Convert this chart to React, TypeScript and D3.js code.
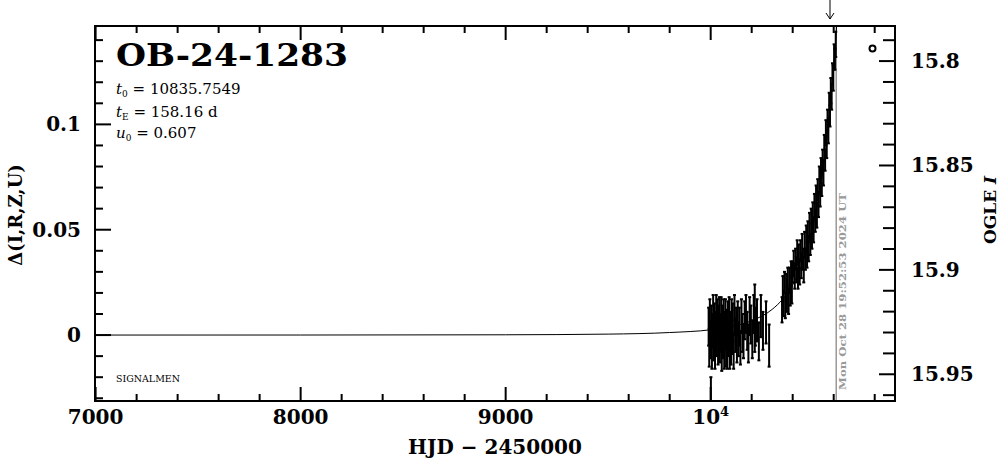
import React from "react";
import * as d3 from "d3";

// ---------- data ----------
const EVENT_NAME = "OB-24-1283";
const T0 = "10835.7549";
const TE = "158.16";
const U0 = "0.607";

const X_DOMAIN = [6997, 10899];
const Y_DOMAIN = [-0.0313, 0.1467];
const MAG_DOMAIN = [15.7832, 15.9628];

const xMajorTicks = [7000, 8000, 9000, 10000];
const xTickLabels = ["7000", "8000", "9000", "10^4"];
const yMajorTicks = [0, 0.05, 0.1];
const yTickLabels = ["0", "0.05", "0.1"];
const magMajorTicks = [15.8, 15.85, 15.9, 15.95];
const magTickLabels = ["15.8", "15.85", "15.9", "15.95"];

const NOW_HJD = 10612.33;
const NOW_LABEL = "Mon Oct 28 19:52:53 2024 UT";
const ARROW_HJD = 10582;

// model curve (HJD, delta)
const modelHjd = [6997, 8000, 9000, 9500, 9800, 10000, 10100, 10200, 10300, 10350, 10400, 10450, 10500, 10550, 10580, 10600, 10620, 10640];
const modelDelta = [0.0, 0.00002, 0.00013, 0.00045, 0.0012, 0.0025, 0.004, 0.0068, 0.0122, 0.0169, 0.0239, 0.0347, 0.0521, 0.0802, 0.1056, 0.1274, 0.155, 0.19];

// OGLE photometry: HJD, delta, error
const ogleHjd = [
  9990, 9993, 9996, 10000, 10003, 10006, 10009, 10012, 10015, 10018, 10021, 10024, 10027, 10030, 10033, 10036, 10039, 10042, 10045, 10048,
  10051, 10054, 10057, 10060, 10063, 10066, 10069, 10072, 10075, 10078, 10081, 10084, 10087, 10090, 10093, 10096, 10099, 10102, 10105, 10108,
  10112, 10116, 10120, 10124, 10128, 10132, 10136, 10140, 10145, 10150, 10155, 10160, 10166, 10172, 10178, 10184, 10190, 10196, 10203, 10210,
  10215, 10218, 10226, 10235, 10245, 10255, 10270, 10285, 10001,
  10348, 10352, 10356, 10360, 10364, 10368, 10372, 10376, 10380, 10384, 10388, 10392, 10396, 10400, 10405, 10410, 10414, 10418, 10422, 10426,
  10430, 10434, 10438, 10442, 10446, 10450, 10454, 10458, 10462, 10466, 10470, 10474, 10478, 10482, 10486, 10490, 10494, 10498, 10502, 10506,
  10510, 10514, 10518, 10522, 10526, 10530, 10534, 10538, 10542, 10546, 10550, 10554, 10558, 10562, 10566, 10570, 10574, 10578, 10582, 10586,
  10590, 10594, 10598, 10602, 10606, 10610,
];
const ogleDelta = [
  0.004, -0.006, 0.009, -0.002, 0.006, -0.007, 0.002, 0.010, -0.004, 0.007, -0.007, 0.003, 0.011, -0.001, 0.009, -0.006, 0.005, 0.010, -0.005, 0.001,
  0.010, -0.008, 0.006, -0.003, 0.008, -0.008, 0.002, 0.009, -0.006, 0.004, -0.008, 0.007, -0.002, 0.010, -0.007, 0.003, -0.005, 0.009, -0.001, 0.006,
  -0.008, 0.010, 0.000, 0.005, -0.004, 0.008, -0.002, 0.004, -0.006, 0.009, 0.001, -0.003, 0.007, 0.010, 0.002, -0.004, 0.009, 0.005, -0.002, 0.010,
  0.008, 0.004, 0.007, -0.003, 0.009, 0.002, 0.006, -0.005, -0.045,
  0.012, 0.022, 0.015, 0.025, 0.014, 0.023, 0.017, 0.027, 0.016, 0.026, 0.019, 0.029, 0.021, 0.030, 0.034, 0.028, 0.036, 0.031, 0.039, 0.027,
  0.037, 0.030, 0.040, 0.033, 0.042, 0.036, 0.031, 0.043, 0.036, 0.046, 0.038, 0.049, 0.041, 0.052, 0.043, 0.054, 0.047, 0.058, 0.050, 0.061,
  0.054, 0.065, 0.057, 0.069, 0.062, 0.074, 0.066, 0.078, 0.072, 0.083, 0.077, 0.089, 0.083, 0.096, 0.090, 0.102, 0.097, 0.109, 0.104, 0.116,
  0.113, 0.124, 0.122, 0.132, 0.131, 0.138,
];
const ogleErr = [
  0.009, 0.009, 0.008, 0.009, 0.008, 0.009, 0.008, 0.009, 0.008, 0.008, 0.009, 0.008, 0.008, 0.009, 0.008, 0.008, 0.009, 0.008, 0.008, 0.009,
  0.008, 0.009, 0.008, 0.008, 0.009, 0.008, 0.009, 0.008, 0.009, 0.008, 0.008, 0.009, 0.008, 0.008, 0.009, 0.008, 0.009, 0.008, 0.008, 0.009,
  0.008, 0.009, 0.008, 0.008, 0.009, 0.008, 0.008, 0.009, 0.008, 0.008, 0.009, 0.008, 0.009, 0.009, 0.009, 0.009, 0.009, 0.009, 0.009, 0.009,
  0.016, 0.009, 0.010, 0.009, 0.010, 0.009, 0.010, 0.010, 0.025,
  0.006, 0.006, 0.006, 0.005, 0.006, 0.006, 0.006, 0.005, 0.006, 0.006, 0.005, 0.006, 0.006, 0.005, 0.006, 0.006, 0.005, 0.006, 0.006, 0.005,
  0.006, 0.006, 0.005, 0.006, 0.006, 0.005, 0.006, 0.006, 0.005, 0.006, 0.006, 0.005, 0.006, 0.006, 0.005, 0.006, 0.006, 0.005, 0.006, 0.006,
  0.005, 0.006, 0.006, 0.005, 0.006, 0.006, 0.005, 0.006, 0.006, 0.005, 0.006, 0.006, 0.005, 0.006, 0.006, 0.005, 0.006, 0.006, 0.005, 0.006,
  0.006, 0.005, 0.006, 0.006, 0.005, 0.006,
];

// ---------- layout ----------
const W = 999;
const H = 459;
const FX0 = 95;
const FX1 = 895;
const FY0 = 26;
const FY1 = 401;

const SERIF = "'DejaVu Serif', serif";

export default function App() {
  const x = d3.scaleLinear().domain(X_DOMAIN).range([FX0, FX1]);
  const y = d3.scaleLinear().domain(Y_DOMAIN).range([FY1, FY0]);
  const mag = d3.scaleLinear().domain(MAG_DOMAIN).range([FY0, FY1]);

  const xMinor = d3.range(35, 55).map((k) => k * 200).filter((v) => v >= X_DOMAIN[0] && v <= X_DOMAIN[1]);
  const yMinor = d3.range(-3, 15).map((k) => k / 100);
  const magMinor = d3.range(1579, 1597).map((k) => k / 100);

  const line = d3
    .line<number>()
    .x((_, i) => x(modelHjd[i]))
    .y((d) => y(d))
    .curve(d3.curveMonotoneX);

  const tickStroke = { stroke: "#000", strokeWidth: 2 };

  return (
    <svg width={W} height={H} style={{ position: "absolute", left: 0, top: 0, background: "#fff" }}>
      <defs>
        <clipPath id="frame">
          <rect x={FX0} y={FY0} width={FX1 - FX0} height={FY1 - FY0} />
        </clipPath>
      </defs>
      <rect x={0} y={0} width={W} height={H} fill="#fff" />

      {/* now line */}
      <line x1={x(NOW_HJD)} x2={x(NOW_HJD)} y1={FY0} y2={FY1} stroke="#999" strokeWidth={1.5} />
      <text
        transform={`translate(${x(NOW_HJD) + 10},${FY1 - 11}) rotate(-90)`}
        fontFamily={SERIF}
        fontWeight="bold"
        fontSize={10}
        fill="#999"
        textLength={197}
        lengthAdjust="spacingAndGlyphs"
      >
        {NOW_LABEL}
      </text>

      {/* model + data */}
      <g clipPath="url(#frame)">
        <path d={line(modelDelta) || ""} fill="none" stroke="#000" strokeWidth={1} />
        {ogleHjd.map((t, i) => {
          const cx = x(t);
          const yt = y(ogleDelta[i] + ogleErr[i]);
          const yb = y(ogleDelta[i] - ogleErr[i]);
          return (
            <g key={i} stroke="#000" strokeWidth={2}>
              <line x1={cx} x2={cx} y1={yt} y2={yb} />
              <line x1={cx - 1.5} x2={cx + 1.5} y1={yt} y2={yt} />
              <line x1={cx - 1.5} x2={cx + 1.5} y1={yb} y2={yb} />
            </g>
          );
        })}
      </g>

      {/* frame */}
      <rect x={FX0} y={FY0} width={FX1 - FX0} height={FY1 - FY0} fill="none" stroke="#000" strokeWidth={2} />

      {/* x ticks top & bottom */}
      {xMinor.map((v) => {
        const major = v % 1000 === 0;
        const len = major ? 14 : 7;
        return (
          <g key={v} {...tickStroke}>
            <line x1={x(v)} x2={x(v)} y1={FY0} y2={FY0 + len} />
            <line x1={x(v)} x2={x(v)} y1={FY1} y2={FY1 - len} />
          </g>
        );
      })}
      {/* left ticks */}
      {yMinor.map((v, i) => {
        const major = Math.round(v * 100) % 5 === 0;
        const len = major ? 16 : 8;
        return <line key={i} x1={FX0} x2={FX0 + len} y1={y(v)} y2={y(v)} {...tickStroke} />;
      })}
      {/* right ticks */}
      {magMinor.map((v, i) => {
        const major = Math.round(v * 100) % 5 === 0;
        const len = major ? 16 : 12;
        return <line key={i} x1={FX1} x2={FX1 - len} y1={mag(v)} y2={mag(v)} {...tickStroke} />;
      })}

      {/* x tick labels */}
      {xMajorTicks.map((v, i) => {
        const lab = xTickLabels[i];
        if (lab.includes("^")) {
          const [base, exp] = lab.split("^");
          return (
            <text key={v} x={x(v)} y={424} textAnchor="middle" fontFamily={SERIF} fontWeight="bold" fontSize={20}>
              {base}
              <tspan fontSize={13} dy={-8}>
                {exp}
              </tspan>
            </text>
          );
        }
        return (
          <text key={v} x={x(v)} y={424} textAnchor="middle" fontFamily={SERIF} fontWeight="bold" fontSize={20}>
            {lab}
          </text>
        );
      })}
      <text x={(FX0 + FX1) / 2} y={454} textAnchor="middle" fontFamily={SERIF} fontWeight="bold" fontSize={20}>
        HJD − 2450000
      </text>

      {/* left tick labels */}
      {yMajorTicks.map((v, i) => (
        <text key={v} x={81} y={y(v) + 7} textAnchor="end" fontFamily={SERIF} fontWeight="bold" fontSize={20}>
          {yTickLabels[i]}
        </text>
      ))}
      <text
        transform={`translate(22,215) rotate(-90)`}
        textAnchor="middle"
        fontFamily={SERIF}
        fontWeight="bold"
        fontSize={18}
      >
        Δ(I,R,Z,U)
      </text>

      {/* right tick labels */}
      {magMajorTicks.map((v, i) => (
        <text key={v} x={911} y={mag(v) + 7} textAnchor="start" fontFamily={SERIF} fontWeight="bold" fontSize={20}>
          {magTickLabels[i]}
        </text>
      ))}
      <text
        transform={`translate(996,210) rotate(-90)`}
        textAnchor="middle"
        fontFamily={SERIF}
        fontWeight="bold"
        fontSize={17}
      >
        OGLE <tspan fontStyle="italic">I</tspan>
      </text>

      {/* title and parameters */}
      <text x={116} y={66} fontFamily={SERIF} fontWeight="bold" fontSize={31} textLength={232} lengthAdjust="spacingAndGlyphs">
        {EVENT_NAME}
      </text>
      <text x={116} y={94} fontFamily={SERIF} fontSize={15}>
        <tspan fontStyle="italic">t</tspan>
        <tspan fontSize={9} dy={3}>0</tspan>
        <tspan dy={-3}> = {T0}</tspan>
      </text>
      <text x={116} y={116.5} fontFamily={SERIF} fontSize={15}>
        <tspan fontStyle="italic">t</tspan>
        <tspan fontSize={9} dy={3}>E</tspan>
        <tspan dy={-3}> = {TE} d</tspan>
      </text>
      <text x={116} y={138} fontFamily={SERIF} fontSize={15}>
        <tspan fontStyle="italic">u</tspan>
        <tspan fontSize={9} dy={3}>0</tspan>
        <tspan dy={-3}> = {U0}</tspan>
      </text>

      <text x={116} y={382} fontFamily={SERIF} fontSize={9} textLength={64} lengthAdjust="spacingAndGlyphs">
        SIGNALMEN
      </text>

      {/* legend symbol */}
      <circle cx={FX1 - 22.5} cy={FY0 + 22.5} r={3} fill="none" stroke="#000" strokeWidth={2} />

      {/* arrow */}
      <g stroke="#000" strokeWidth={1} fill="none">
        <line x1={x(ARROW_HJD)} x2={x(ARROW_HJD)} y1={0} y2={19} />
        <polyline points={`${x(ARROW_HJD) - 4},${13} ${x(ARROW_HJD)},${19} ${x(ARROW_HJD) + 4},${13}`} />
      </g>
    </svg>
  );
}
